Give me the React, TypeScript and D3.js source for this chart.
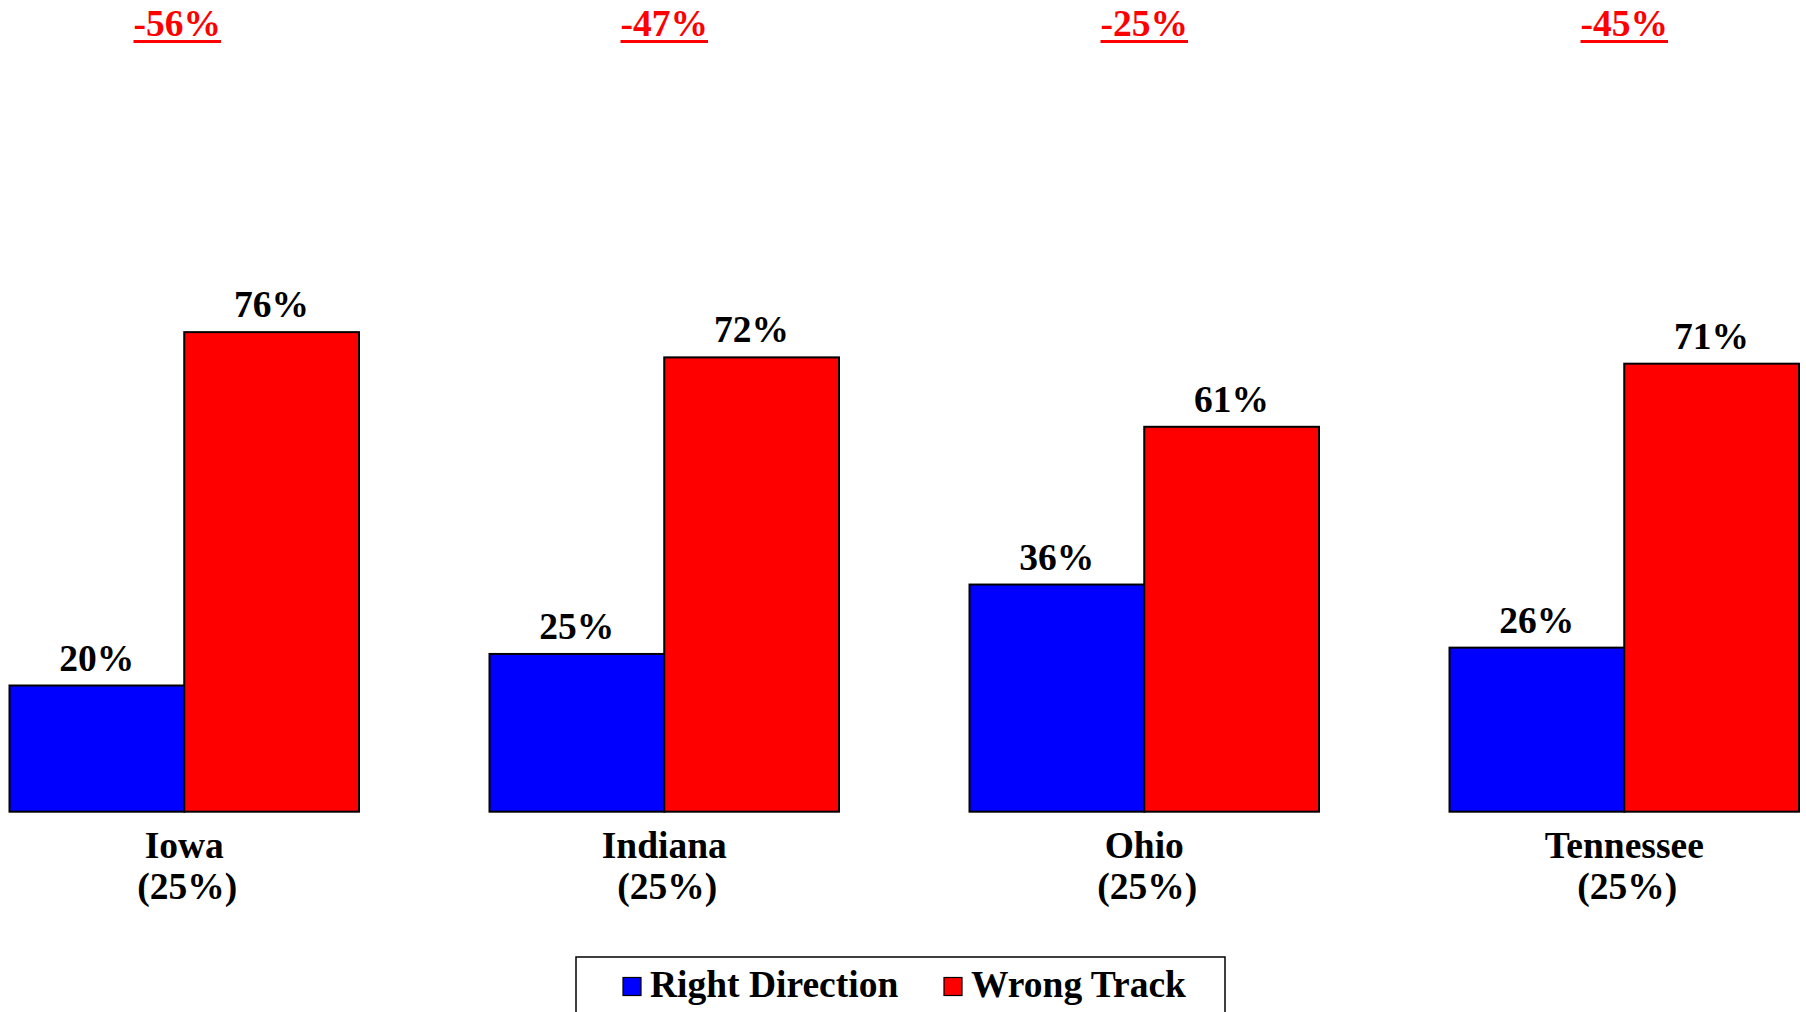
import React, { useEffect, useRef } from "react";
import * as d3 from "d3";

const states = ["Iowa", "Indiana", "Ohio", "Tennessee"];
const shares = ["(25%)", "(25%)", "(25%)", "(25%)"];
const rightDirection = [20, 25, 36, 26];
const wrongTrack = [76, 72, 61, 71];
const seriesNames = ["Right Direction", "Wrong Track"];
const seriesColors = ["#0000ff", "#ff0000"];

const W = 1806;
const H = 1012;
const FONT = "'Liberation Serif', 'Times New Roman', Times, serif";
const FS = 37.5;

export default function App() {
  const topRef = useRef<SVGGElement>(null);

  const x0 = d3.scaleBand<string>().domain(states).range([9.5, 1799]).paddingInner(0.2719).paddingOuter(0);
  const x1 = d3.scaleBand<string>().domain(seriesNames).range([0, x0.bandwidth()]).padding(0);
  const y = d3.scaleLinear().domain([0, 100]).range([811.7, 180.7]);

  const rows = states.map((s, i) => ({
    state: s,
    share: shares[i],
    values: [rightDirection[i], wrongTrack[i]],
    net: rightDirection[i] - wrongTrack[i],
  }));

  useEffect(() => {
    const g = d3.select(topRef.current);
    g.selectAll("rect.ul").remove();
    g.selectAll<SVGTextElement, unknown>("text").each(function () {
      const bb = this.getBBox();
      g.append("rect")
        .attr("class", "ul")
        .attr("x", bb.x)
        .attr("y", 40)
        .attr("width", bb.width)
        .attr("height", 3)
        .attr("fill", "#ff0000");
    });
  }, []);

  return (
    <svg width={W} height={H} style={{ position: "absolute", left: 0, top: 0, background: "#fff" }} fontFamily={FONT} fontWeight="bold">
      <rect x={0} y={0} width={W} height={H} fill="#fff" />
      <g ref={topRef}>
        {rows.map((r, i) => (
          <text key={r.state} x={(x0(r.state) as number) + x0.bandwidth() / 2 - (i === 0 ? 7 : 0)} y={36} textAnchor="middle" fontSize={FS} fill="#ff0000">
            {`${r.net}%`}
          </text>
        ))}
      </g>
      {rows.map((r) => (
        <g key={r.state} transform={`translate(${x0(r.state)},0)`}>
          {r.values.map((v, j) => (
            <g key={j}>
              <rect
                x={x1(seriesNames[j]) as number}
                y={y(v)}
                width={x1.bandwidth()}
                height={y(0) - y(v)}
                fill={seriesColors[j]}
                stroke="#000"
                strokeWidth={2}
              />
              <text x={(x1(seriesNames[j]) as number) + x1.bandwidth() / 2} y={y(v) - 15} textAnchor="middle" fontSize={FS} fill="#000">
                {`${v}%`}
              </text>
            </g>
          ))}
          <text x={x0.bandwidth() / 2} y={858} textAnchor="middle" fontSize={FS} fill="#000">
            {r.state}
          </text>
          <text x={x0.bandwidth() / 2 + 3} y={899} textAnchor="middle" fontSize={FS} fill="#000">
            {r.share}
          </text>
        </g>
      ))}
      <rect x={576} y={957} width={649} height={100} fill="#fff" stroke="#000" strokeWidth={1.5} />
      {seriesNames.map((n, j) => {
        const lx = j === 0 ? 623 : 944;
        return (
          <g key={n}>
            <rect x={lx} y={977.5} width={18} height={18} fill={seriesColors[j]} stroke="#000" strokeWidth={1.2} />
            <text x={lx + 27} y={997} fontSize={FS} fill="#000">
              {n}
            </text>
          </g>
        );
      })}
    </svg>
  );
}
